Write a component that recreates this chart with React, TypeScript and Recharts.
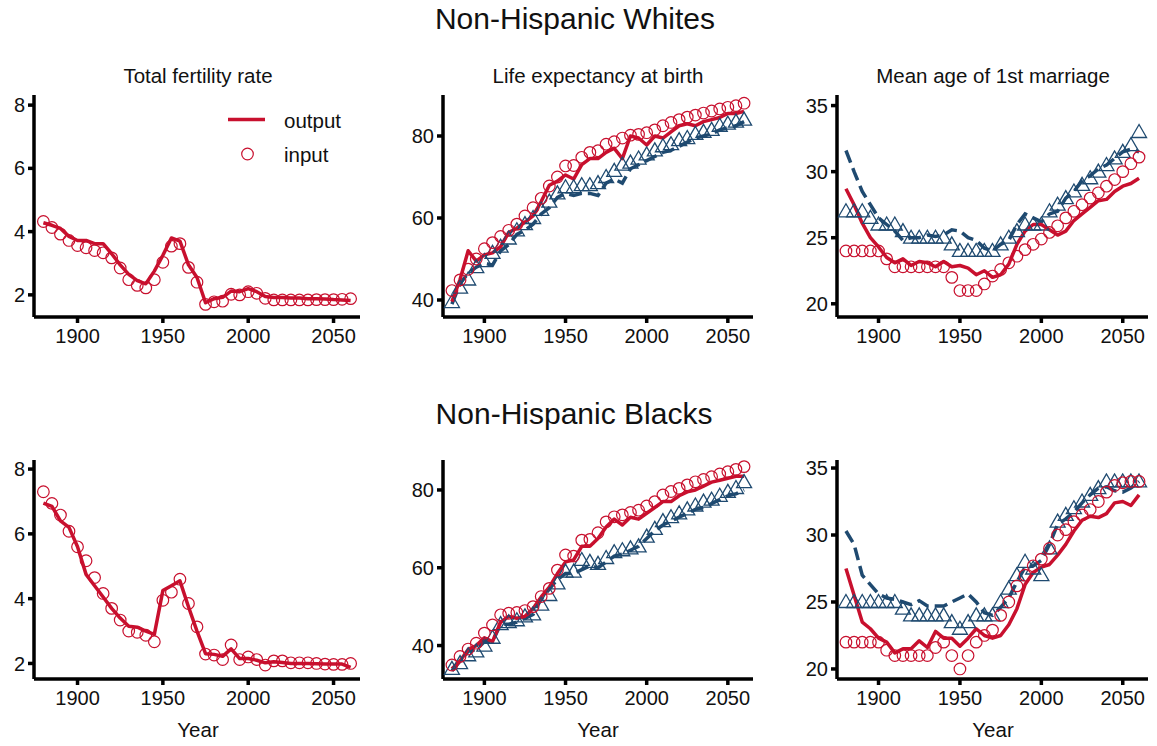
import { ComposedChart, Line, XAxis, YAxis } from "recharts";

// years shared by every panel (5-year steps)
const years = [
	1880, 1885, 1890, 1895, 1900, 1905, 1910, 1915, 1920, 1925, 1930, 1935, 1940,
	1945, 1950, 1955, 1960, 1965, 1970, 1975, 1980, 1985, 1990, 1995, 2000, 2005,
	2010, 2015, 2020, 2025, 2030, 2035, 2040, 2045, 2050, 2055, 2060
];
const xTicks = [1900, 1950, 2000, 2050];

// Non-Hispanic Whites
const tfrWhiteInput = [
	4.32, 4.13, 3.92, 3.72, 3.56, 3.49, 3.4, 3.33, 3.17, 2.85, 2.48, 2.3, 2.22,
	2.48, 3.03, 3.54, 3.62, 2.87, 2.4, 1.7, 1.78, 1.8, 2.02, 2.0, 2.1, 2.05, 1.89,
	1.84, 1.84, 1.84, 1.84, 1.84, 1.85, 1.85, 1.85, 1.86, 1.88
];
const tfrWhiteOutput = [
	4.28, 4.2, 4.1, 3.85, 3.72, 3.72, 3.62, 3.62, 3.3, 2.95, 2.65, 2.45, 2.35,
	2.75, 3.25, 3.8, 3.7, 2.95, 2.55, 1.75, 1.88, 1.92, 2.12, 2.1, 2.2, 2.1, 1.95,
	1.92, 1.92, 1.9, 1.9, 1.88, 1.88, 1.87, 1.85, 1.84, 1.82
];
const leWhiteInputF = [
	42.3, 44.9, 47.5, 50, 52.5, 54, 55.5, 57, 58.5, 60.5, 62.5, 64.8, 67.8, 70,
	72.7, 72.8, 74.8, 76, 76.4, 78, 78.6, 79.5, 80.2, 80.4, 80.8, 81.5, 82.5, 83.3,
	84, 84.6, 85.1, 85.6, 86.1, 86.6, 87, 87.4, 88
];
const leWhiteOutputF = [
	39.6, 45, 52, 49.5, 51, 51.5, 53, 56.5, 57.5, 59, 60.5, 64, 68, 69, 70.5, 69.5,
	73, 74.5, 74.5, 76, 77, 74.5, 80, 79.5, 77.8, 80, 79.5, 81, 82.5, 83, 82.5,
	83.5, 84, 84.5, 85.5, 85.5, 86
];
const leWhiteInputM = [
	39.5, 43, 45, 48, 49.5, 51.5, 53, 55, 57, 58.5, 60, 62, 64, 66, 67.5, 67.5, 68,
	68, 68.5, 70, 71.5, 73, 73.5, 74.5, 75.5, 76.5, 77.5, 78, 79, 79.5, 80.5, 81,
	81.5, 82.5, 83, 83.5, 84
];
const leWhiteOutputM = [
	39, 44, 46.5, 48, 49, 48.5, 52, 53.5, 56, 57, 58.5, 61, 62.5, 65, 66, 65.5, 66,
	66, 65.5, 68.5, 69.5, 68.5, 72, 73, 74, 75, 76, 76.5, 77.5, 78.5, 79.5, 80,
	80.5, 81.5, 82, 82.5, 83.5
];
const marWhiteInputF = [
	24, 24, 24, 24, 24, 23.4, 22.8, 22.8, 22.8, 22.8, 22.8, 22.8, 22.8, 22, 21, 21,
	21, 21.5, 22.1, 22.6, 23.1, 23.6, 24.1, 24.5, 24.9, 25.4, 25.9, 26.5, 27, 27.5,
	28, 28.4, 28.9, 29.4, 30, 30.6, 31.1
];
const marWhiteOutputF = [
	28.7, 27.5, 26.1, 25, 24.3, 23.5, 23.1, 23.4, 22.9, 23.2, 23.1, 22.8, 23.2,
	22.8, 22.9, 22.7, 22.2, 22.5, 22, 22.2, 23, 24.5, 25.5, 26, 26, 25.6, 25.2,
	25.5, 26.3, 26.8, 27.3, 27.8, 27.9, 28.5, 28.9, 29.1, 29.5
];
const marWhiteInputM = [
	27, 27, 27, 26.5, 26, 26, 26, 25.5, 25, 25, 25, 25, 25, 24.5, 24, 24, 24, 24,
	24, 24.5, 25, 25.5, 26, 26, 26, 27, 27.5, 28, 28.5, 29, 29.5, 30, 30.5, 31,
	31.5, 32, 33
];
const marWhiteOutputM = [
	31.6, 30, 28.5, 27.5, 26.5, 26, 25.5, 24.8, 25, 25, 25.2, 25.1, 25.2, 25.6,
	25.5, 25, 24.8, 24.2, 24, 24.5, 24.8, 26, 26.8, 26.5, 26.2, 26.8, 27, 28, 28.5,
	29.3, 29.7, 30.2, 30.5, 31, 31.5, 31.7, 31.5
];

// Non-Hispanic Blacks
const tfrBlackInput = [
	7.3, 6.94, 6.58, 6.08, 5.6, 5.17, 4.65, 4.16, 3.7, 3.34, 3.0, 2.96, 2.87, 2.67,
	3.95, 4.2, 4.6, 3.85, 3.13, 2.29, 2.26, 2.12, 2.57, 2.12, 2.2, 2.12, 1.95,
	2.08, 2.08, 2.02, 2.02, 2.02, 2.0, 1.98, 1.97, 1.97, 2.0
];
const tfrBlackOutput = [
	6.95, 6.85, 6.4, 6.2, 5.6, 4.75, 4.4, 4.05, 3.7, 3.4, 3.15, 3.12, 3.0, 2.9,
	4.25, 4.4, 4.55, 3.75, 3.0, 2.3, 2.28, 2.22, 2.45, 2.15, 2.15, 2.1, 2.02, 2.05,
	2.03, 2.0, 2.0, 2.0, 1.99, 1.98, 1.98, 1.98, 1.88
];
const leBlackInputF = [
	35, 37.2, 39.1, 40.6, 43.2, 45.3, 47.9, 48.3, 48.5, 49, 50, 52.6, 54.7, 59.4,
	63.3, 63, 67.1, 67.3, 69, 71.8, 73.1, 73.6, 74.2, 74.8, 75.9, 77, 78.7, 79.6,
	80.4, 81.3, 82.1, 82.7, 83.4, 84.1, 84.7, 85.3, 86
];
const leBlackOutputF = [
	34, 36, 39, 40, 42, 41, 46, 47.5, 47, 47.5, 49.5, 52.5, 55, 58.5, 61.5, 62,
	65.5, 65.5, 67.5, 70.5, 72.5, 71, 73, 72.5, 74, 75.5, 77, 77, 78.5, 79.5, 80,
	81, 82, 82.5, 83, 83.5, 83.5
];
const leBlackInputM = [
	34, 35.5, 37.5, 38.5, 40, 42, 45.5, 46, 46.5, 47.5, 48, 50.5, 53, 56, 59, 59,
	62, 61.5, 61, 62.5, 64, 64.5, 65, 65.5, 68, 70, 72, 73, 74, 75, 76, 77, 77.5,
	78.5, 79.5, 80.5, 82
];
const leBlackOutputM = [
	33.5, 36, 38.5, 39, 41, 41, 45.5, 45.5, 46, 47, 48, 52, 54.5, 57, 58.5, 58.5,
	59.5, 60.5, 60, 61.5, 63, 63.5, 64.5, 65.5, 67.5, 69.5, 71, 72, 73, 74, 75,
	75.5, 76.5, 77.5, 78.5, 79, 80
];
const marBlackInputF = [
	22, 22, 22, 22, 22, 21.4, 21, 21, 21, 21, 21, 21.6, 22, 21, 20, 21, 22, 22.5,
	22.9, 24, 25, 26.2, 27, 27.7, 28.2, 29, 30, 30.4, 31, 31.5, 31.9, 32.5, 33.2,
	33.7, 33.9, 34, 34
];
const marBlackOutputF = [
	27.5, 25.5, 23.5, 23, 22.3, 22, 21.2, 21.5, 21.5, 22.1, 21.6, 22.8, 22.3, 22.3,
	21.7, 22.3, 23, 22.5, 22.3, 22.5, 23.3, 24.5, 26.3, 27.2, 27.6, 27.8, 28.5,
	29.3, 30.3, 31.1, 31.4, 31.3, 31.6, 32.4, 32.5, 32.2, 33
];
const marBlackInputM = [
	25, 25, 25, 25, 25, 25, 25, 24.5, 24, 24, 24, 24, 24, 23.5, 23, 23.5, 24, 24,
	24, 25, 26, 27, 28, 27.5, 27, 29, 31, 31.5, 32, 32.5, 33, 33.5, 34, 34, 34, 34,
	34
];
const marBlackOutputM = [
	30.3, 29.3, 27, 26.3, 25.6, 25.3, 25.2, 25, 24.8, 25.1, 24.7, 24.7, 24.7, 25,
	25.3, 25.6, 25, 24.2, 24, 24.6, 25.3, 26.5, 27.6, 27.7, 28.1, 29.3, 30.8, 31.2,
	31.7, 32.4, 33, 33.5, 33.6, 33.3, 33.2, 33.5, 34
];

const RED = "#C8102E";
const BLUE = "#1F4A70";
const FONT = '"Liberation Sans", Arial, sans-serif';
const TEXT = "#111";
const xDomain = [1874.5, 2065.5];

type PanelProps = {
	left: number;
	top: number;
	right: number;
	bottom: number;
	yDomain: number[];
	yTicks: number[];
	out: number[];
	inp: number[];
	out2?: number[];
	inp2?: number[];
};

const Triangle = (props: any) => {
	const { cx, cy, index } = props;
	if (cx == null || cy == null) return <g key={index} />;
	return (
		<polygon
			key={index}
			points={`${cx},${cy - 7.5} ${cx - 7.5},${cy + 5.5} ${cx + 7.5},${cy + 5.5}`}
			fill="none"
			stroke={BLUE}
			strokeWidth={1.3}
		/>
	);
};

function Panel({ left, top, right, bottom, yDomain, yTicks, out, inp, out2, inp2 }: PanelProps) {
	const data = years.map((year, i) => ({
		year,
		out: out[i],
		inp: inp[i],
		out2: out2 ? out2[i] : null,
		inp2: inp2 ? inp2[i] : null
	}));
	const axisStyle = { stroke: "#000", strokeWidth: 3.5 };
	const tickStyle = { fontSize: 20, fill: TEXT, fontFamily: FONT };

	return (
		<div style={{ position: "absolute", left: left - 60, top: top - 10 }}>
			<ComposedChart
				width={right - left + 75}
				height={bottom - top + 50}
				data={data}
				margin={{ top: 10, right: 15, bottom: 0, left: 0 }}
			>
				<XAxis
					dataKey="year"
					type="number"
					domain={xDomain}
					ticks={xTicks}
					allowDataOverflow
					interval={0}
					height={40}
					axisLine={axisStyle}
					tickLine={axisStyle}
					tickSize={6}
					tickMargin={6}
					tick={tickStyle}
				/>
				<YAxis
					type="number"
					domain={yDomain}
					ticks={yTicks}
					allowDataOverflow
					interval={0}
					width={60}
					axisLine={axisStyle}
					tickLine={axisStyle}
					tickSize={6}
					tickMargin={3}
					tick={tickStyle}
				/>
				{inp2 && (
					<Line dataKey="inp2" stroke="none" dot={Triangle} activeDot={false} isAnimationActive={false} />
				)}
				<Line
					dataKey="inp"
					stroke="none"
					dot={{ r: 5.8, stroke: RED, strokeWidth: 1.2, fill: "none" }}
					activeDot={false}
					isAnimationActive={false}
				/>
				{out2 && (
					<Line
						dataKey="out2"
						stroke={BLUE}
						strokeWidth={3.5}
						strokeDasharray="13 6"
						dot={false}
						activeDot={false}
						isAnimationActive={false}
					/>
				)}
				<Line
					dataKey="out"
					stroke={RED}
					strokeWidth={3.5}
					strokeLinejoin="round"
					dot={false}
					activeDot={false}
					isAnimationActive={false}
				/>
			</ComposedChart>
		</div>
	);
}

export default function App() {
	return (
		<div
			style={{
				position: "absolute",
				left: 0,
				top: 0,
				width: 1157,
				height: 746,
				background: "#fff",
				fontFamily: FONT
			}}
		>
			<Panel left={34} top={95} right={360} bottom={317} yDomain={[1.3, 8.32]} yTicks={[2, 4, 6, 8]}
				out={tfrWhiteOutput} inp={tfrWhiteInput} />
			<Panel left={443} top={95} right={753} bottom={317} yDomain={[35.85, 90]} yTicks={[40, 60, 80]}
				out={leWhiteOutputF} inp={leWhiteInputF} out2={leWhiteOutputM} inp2={leWhiteInputM} />
			<Panel left={837} top={95} right={1148} bottom={317} yDomain={[19, 35.8]} yTicks={[20, 25, 30, 35]}
				out={marWhiteOutputF} inp={marWhiteInputF} out2={marWhiteOutputM} inp2={marWhiteInputM} />
			<Panel left={34} top={460} right={360} bottom={679} yDomain={[1.52, 8.28]} yTicks={[2, 4, 6, 8]}
				out={tfrBlackOutput} inp={tfrBlackInput} />
			<Panel left={443} top={460} right={753} bottom={679} yDomain={[31.4, 87.7]} yTicks={[40, 60, 80]}
				out={leBlackOutputF} inp={leBlackInputF} out2={leBlackOutputM} inp2={leBlackInputM} />
			<Panel left={837} top={460} right={1148} bottom={679} yDomain={[19.25, 35.6]} yTicks={[20, 25, 30, 35]}
				out={marBlackOutputF} inp={marBlackInputF} out2={marBlackOutputM} inp2={marBlackInputM} />

			{/* titles, facet labels, legend */}
			<svg width={1157} height={746} style={{ position: "absolute", left: 0, top: 0, pointerEvents: "none" }}>
				<g fontFamily={FONT} fill={TEXT}>
					<text x={575} y={29} fontSize={30} textAnchor="middle">Non-Hispanic Whites</text>
					<text x={574} y={424} fontSize={30} textAnchor="middle">Non-Hispanic Blacks</text>
					<text x={198} y={83} fontSize={20.5} textAnchor="middle">Total fertility rate</text>
					<text x={598} y={83} fontSize={20.5} textAnchor="middle">Life expectancy at birth</text>
					<text x={993} y={83} fontSize={20.5} textAnchor="middle">Mean age of 1st marriage</text>
					<text x={198} y={737} fontSize={20.5} textAnchor="middle">Year</text>
					<text x={598} y={737} fontSize={20.5} textAnchor="middle">Year</text>
					<text x={993} y={737} fontSize={20.5} textAnchor="middle">Year</text>
					<line x1={228} x2={265} y1={119.5} y2={119.5} stroke={RED} strokeWidth={3.5} />
					<text x={284} y={128} fontSize={20.5}>output</text>
					<circle cx={247.5} cy={154} r={5.8} fill="none" stroke={RED} strokeWidth={1.2} />
					<text x={284} y={161.5} fontSize={20.5}>input</text>
				</g>
			</svg>
		</div>
	);
}
